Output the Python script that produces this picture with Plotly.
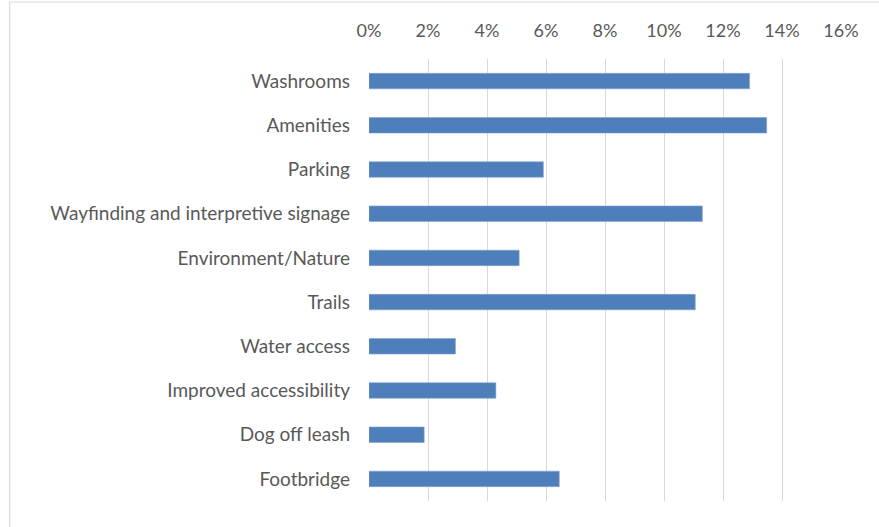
import plotly.graph_objects as go

categories = ["Washrooms", "Amenities", "Parking", "Wayfinding and interpretive signage",
              "Environment/Nature", "Trails", "Water access", "Improved accessibility",
              "Dog off leash", "Footbridge"]
values = [0.129, 0.1348, 0.0591, 0.113, 0.0509, 0.1106, 0.0293, 0.043, 0.0187, 0.0645]
tick_vals = [0, 0.02, 0.04, 0.06, 0.08, 0.10, 0.12, 0.14, 0.16]
tick_text = ["0%", "2%", "4%", "6%", "8%", "10%", "12%", "14%", "16%"]

W, H = 879, 527
L, R, T, B = 369, 840.7, 59, 501

fig = go.Figure(go.Bar(
    y=categories, x=values, orientation="h",
    marker=dict(color="#4f7fbb", line=dict(color="#7fa3d1", width=0.6)),
    width=0.35,
))

fam = "Lato, Calibri, Noto Sans, sans-serif"

fig.update_layout(
    width=W, height=H,
    margin=dict(l=L, r=W - R, t=T, b=H - B, pad=0),
    paper_bgcolor="white", plot_bgcolor="white",
    showlegend=False,
    font=dict(family=fam, size=18, color="#595959"),
    xaxis=dict(
        side="top", range=[0, 0.16], tickvals=tick_vals, ticktext=tick_text,
        showgrid=True, gridcolor="#d9d9d9", gridwidth=1.2, zeroline=False,
        showline=False, ticks="", ticklabelstandoff=17, fixedrange=True,
        tickfont=dict(family=fam, size=18, color="#595959"),
    ),
    yaxis=dict(
        autorange="reversed", showgrid=False, zeroline=False, showline=False,
        ticks="", ticklabelstandoff=18, range=[-0.5, 9.5], fixedrange=True,
        tickfont=dict(family=fam, size=19, color="#595959"),
    ),
)

# outer chart border (partially visible)
x0 = (10 - L) / (R - L)
x1 = (W + 5 - L) / (R - L)
y1 = (B - 2) / (B - T)
y0 = (B - (H + 5)) / (B - T)
fig.add_shape(type="rect", xref="paper", yref="paper", x0=x0, x1=x1, y0=y0, y1=y1,
              line=dict(color="#d9d9d9", width=1.2), fillcolor="rgba(0,0,0,0)", layer="below")

fig.write_html("out.html", config={"displayModeBar": False},
               post_script="document.body.style.margin='0';document.body.style.overflow='hidden';")
